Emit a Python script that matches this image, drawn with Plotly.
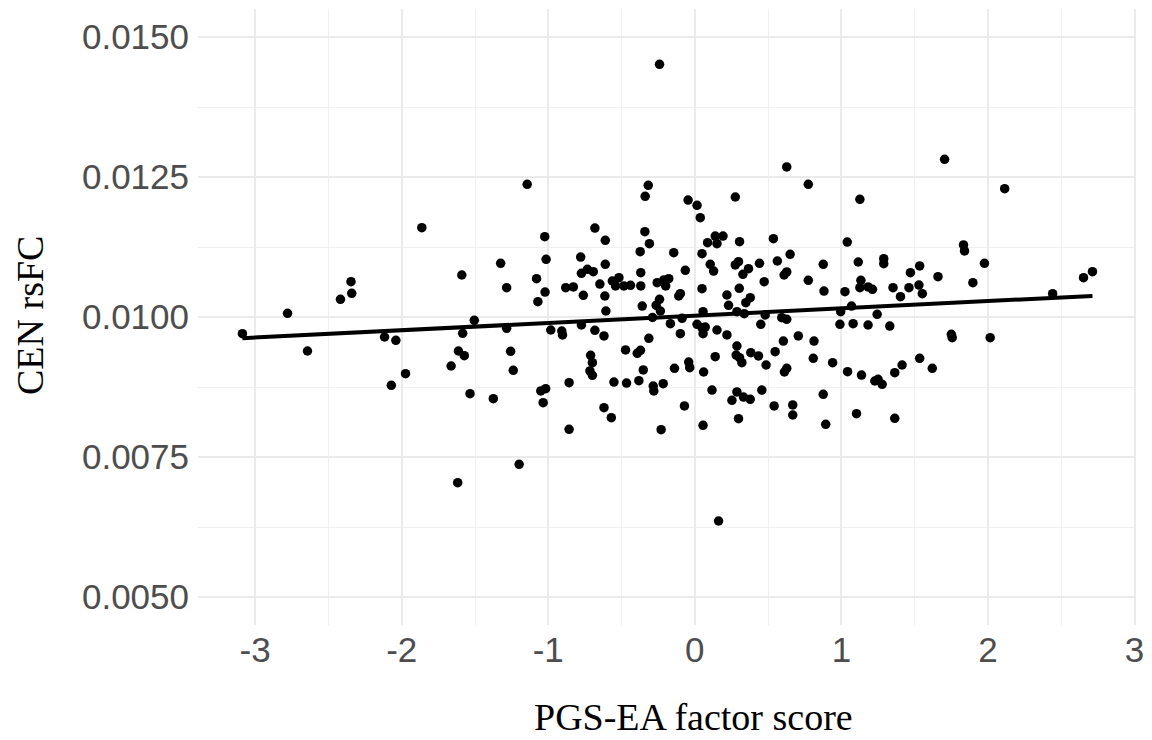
import numpy as np
import plotly.graph_objects as go

# PGS-EA factor score (x) and CEN rsFC (y)
pgs_ea_score = [
    -3.087, -2.779, -2.643, -2.418, -2.346, -2.341, -2.117, -2.040, -1.974, -2.071,
    -1.863, -1.144, -1.024, -1.015, -1.325, -1.590, -1.284, -1.080, -1.022, -1.071,
    -0.881, -1.505, -1.584, -1.284, -0.983, -0.908, -0.903, -1.613, -1.573, -1.663,
    -1.257, -1.239, -1.534, -1.375, -1.051, -1.018, -1.035, -0.858, -0.858, -1.199,
    -1.618,
    -0.241, -0.318, -0.339, -0.046, -0.682, -0.611, -0.341, -0.310, -0.373, -0.144,
    -0.779, -0.611, -0.774, -0.733, -0.693, -0.065, -0.829, -0.761, -0.648, -0.614,
    -0.607, -0.563, -0.518, -0.541, -0.484, -0.439, -0.369, -0.369, -0.359, -0.257,
    -0.212, -0.178, -0.199, -0.099, -0.110, -0.241, -0.264, -0.235, -0.289,
    -0.774, -0.682, -0.620, -0.167, -0.087, -0.099, -0.314, -0.473, -0.393, -0.371,
    -0.711, -0.699, -0.716, -0.699, -0.352, -0.139, -0.042, -0.035, -0.552, -0.466,
    -0.382, -0.284, -0.280, -0.216, -0.620, -0.570, -0.071, -0.230,
    0.627, 0.774, 0.276, 0.015, 0.037, 0.139, 0.192, 0.151, 0.087, 0.305,
    0.536, 0.049, 0.650, 0.563, 0.441, 0.105, 0.128, 0.276, 0.298, 0.366,
    0.328, 0.627, 0.609, 0.473, 0.774, 0.049, 0.303, 0.219, 0.378, 0.348,
    0.230, 0.056, 0.287, 0.337, 0.480, 0.593, 0.627,
    0.015, 0.049, 0.071, 0.056, 0.151, 0.219, 0.450, 0.287, 0.282, 0.305,
    0.321, 0.382, 0.434, 0.486, 0.548, 0.604, 0.706, 0.627, 0.611, 0.139,
    0.060, 0.117, 0.287, 0.253, 0.332, 0.378, 0.457, 0.541, 0.668, 0.668,
    0.298, 0.056, 0.162,
    1.704, 1.126, 1.040, 0.876, 1.115, 1.289, 1.289, 1.534, 1.471, 1.659,
    1.833, 1.840, 0.881, 1.024, 1.133, 1.126, 1.182, 1.212, 1.352, 1.403,
    1.461, 1.529, 1.552, 1.069, 0.995, 1.244, 0.990, 1.080, 1.182, 1.330,
    1.750, 1.756, 0.813, 0.808, 0.940, 1.042, 1.137, 1.228, 1.250, 1.278,
    1.364, 1.414, 1.534, 1.620, 0.876, 0.893, 1.103, 1.364,
    2.114, 1.976, 1.897, 2.015, 2.441, 2.652, 2.713,
]

cen_rsfc = [
    0.009702, 0.010066, 0.009393, 0.010316, 0.010630, 0.010423, 0.009643, 0.009583, 0.008988, 0.008780,
    0.011595, 0.012370, 0.011434, 0.011030, 0.010958, 0.010750, 0.010523, 0.010684, 0.010446, 0.010274,
    0.010523, 0.009941, 0.009708, 0.009798, 0.009768, 0.009750, 0.009680, 0.009393, 0.009310, 0.009125,
    0.009387, 0.009048, 0.008630, 0.008541, 0.008679, 0.008720, 0.008470, 0.008827, 0.007994, 0.007370,
    0.007041,
    0.014513, 0.012352, 0.012155, 0.012089, 0.011589, 0.011370, 0.011523, 0.011309, 0.011166, 0.011148,
    0.011071, 0.010941, 0.010780, 0.010852, 0.010809, 0.010834, 0.010536, 0.010387, 0.010589, 0.010375,
    0.010107, 0.010643, 0.010702, 0.010554, 0.010554, 0.010566, 0.010791, 0.010554, 0.010196, 0.010613,
    0.010661, 0.010684, 0.010554, 0.010416, 0.010375, 0.010316, 0.010209, 0.010107, 0.009991,
    0.009857, 0.009762, 0.009661, 0.009880, 0.009977, 0.009702, 0.009620, 0.009411, 0.009351, 0.009405,
    0.009316, 0.009184, 0.009036, 0.008959, 0.009054, 0.009083, 0.009196, 0.009095, 0.008839, 0.008821,
    0.008863, 0.008768, 0.008679, 0.008809, 0.008380, 0.008202, 0.008411, 0.007988,
    0.012679, 0.012370, 0.012143, 0.011995, 0.011773, 0.011446, 0.011446, 0.011309, 0.011327, 0.011345,
    0.011398, 0.011131, 0.011119, 0.011000, 0.010958, 0.010941, 0.010821, 0.010929, 0.010988, 0.010863,
    0.010762, 0.010804, 0.010750, 0.010631, 0.010655, 0.010506, 0.010512, 0.010393, 0.010345, 0.010255,
    0.010209, 0.010095, 0.010095, 0.010059, 0.010036, 0.009988, 0.009958,
    0.009869, 0.009809, 0.009821, 0.009702, 0.009768, 0.009679, 0.009869, 0.009482, 0.009321, 0.009274,
    0.009184, 0.009363, 0.009304, 0.009143, 0.009381, 0.009571, 0.009661, 0.009083, 0.009018, 0.009292,
    0.009018, 0.008696, 0.008661, 0.008512, 0.008571, 0.008530, 0.008696, 0.008411, 0.008429, 0.008250,
    0.008184, 0.008066, 0.006357,
    0.012816, 0.012102, 0.011339, 0.010941, 0.010982, 0.011041, 0.010952, 0.010911, 0.010791, 0.010720,
    0.011286, 0.011179, 0.010464, 0.010452, 0.010655, 0.010523, 0.010536, 0.010494, 0.010523, 0.010363,
    0.010523, 0.010571, 0.010416, 0.010196, 0.010095, 0.010048, 0.009869, 0.009880, 0.009857, 0.009839,
    0.009690, 0.009631, 0.009571, 0.009262, 0.009184, 0.009024, 0.008964, 0.008857, 0.008887, 0.008798,
    0.009006, 0.009143, 0.009262, 0.009083, 0.008620, 0.008084, 0.008274, 0.008191,
    0.012291, 0.010958, 0.010613, 0.009631, 0.010416, 0.010702, 0.010809,
]

x_ticks = [-3, -2, -1, 0, 1, 2, 3]
x_tick_labels = ["-3", "-2", "-1", "0", "1", "2", "3"]
y_ticks = [0.0050, 0.0075, 0.0100, 0.0125, 0.0150]
y_tick_labels = ["0.0050", "0.0075", "0.0100", "0.0125", "0.0150"]

x_arr = np.array(pgs_ea_score)
y_arr = np.array(cen_rsfc)
slope, intercept = np.polyfit(x_arr, y_arr, 1)
fit_x = np.array([x_arr.min(), x_arr.max()])
fit_y = intercept + slope * fit_x

fig = go.Figure()
fig.add_trace(go.Scatter(
    x=pgs_ea_score, y=cen_rsfc, mode="markers",
    marker=dict(color="black", size=9.5, line=dict(width=0)),
    showlegend=False, hoverinfo="skip",
))
fig.add_trace(go.Scatter(
    x=fit_x, y=fit_y, mode="lines",
    line=dict(color="black", width=4),
    showlegend=False, hoverinfo="skip",
))

tick_font = dict(family="Liberation Sans, Arial, sans-serif", size=35, color="#4d4d4d")
title_font = dict(family="Liberation Serif, Times New Roman, serif", size=38, color="black")

# the page body adds an 8px offset; figure sized to compensate
W, H = 1144, 732
L, R, T, B = 190, 16, 1, 115

fig.update_layout(
    width=W, height=H,
    margin=dict(l=L, r=R, t=T, b=B, autoexpand=False),
    paper_bgcolor="white", plot_bgcolor="white",
    xaxis=dict(
        range=[-3.39, 3.01], tickvals=x_ticks, ticktext=x_tick_labels,
        showgrid=True, gridcolor="#ebebeb", gridwidth=2,
        minor=dict(dtick=0.5, showgrid=True, gridcolor="#f0f0f0", gridwidth=1.3),
        zeroline=False, showline=False, ticks="", tickfont=tick_font,
        ticklabelstandoff=1, automargin=False,
    ),
    yaxis=dict(
        range=[0.0045, 0.0155], tickvals=y_ticks, ticktext=y_tick_labels,
        showgrid=True, gridcolor="#ebebeb", gridwidth=2,
        minor=dict(dtick=0.00125, showgrid=True, gridcolor="#f0f0f0", gridwidth=1.3),
        zeroline=False, showline=False, ticks="", tickfont=tick_font,
        ticklabelstandoff=8, automargin=False,
    ),
)

plot_w = W - L - R
plot_h = H - T - B
# title positions in figure pixels (page pixels minus the 8px body offset)
fig.add_annotation(text="PGS-EA factor score", xref="paper", yref="paper",
                   x=(685 - L) / plot_w, y=(H - B - 709) / plot_h,
                   xanchor="center", yanchor="middle", showarrow=False, font=title_font)
fig.add_annotation(text="CEN rsFC", textangle=-90, xref="paper", yref="paper",
                   x=(22 - L) / plot_w, y=(H - B - 308) / plot_h,
                   xanchor="center", yanchor="middle", showarrow=False, font=title_font)

fig.write_html("out.html")
